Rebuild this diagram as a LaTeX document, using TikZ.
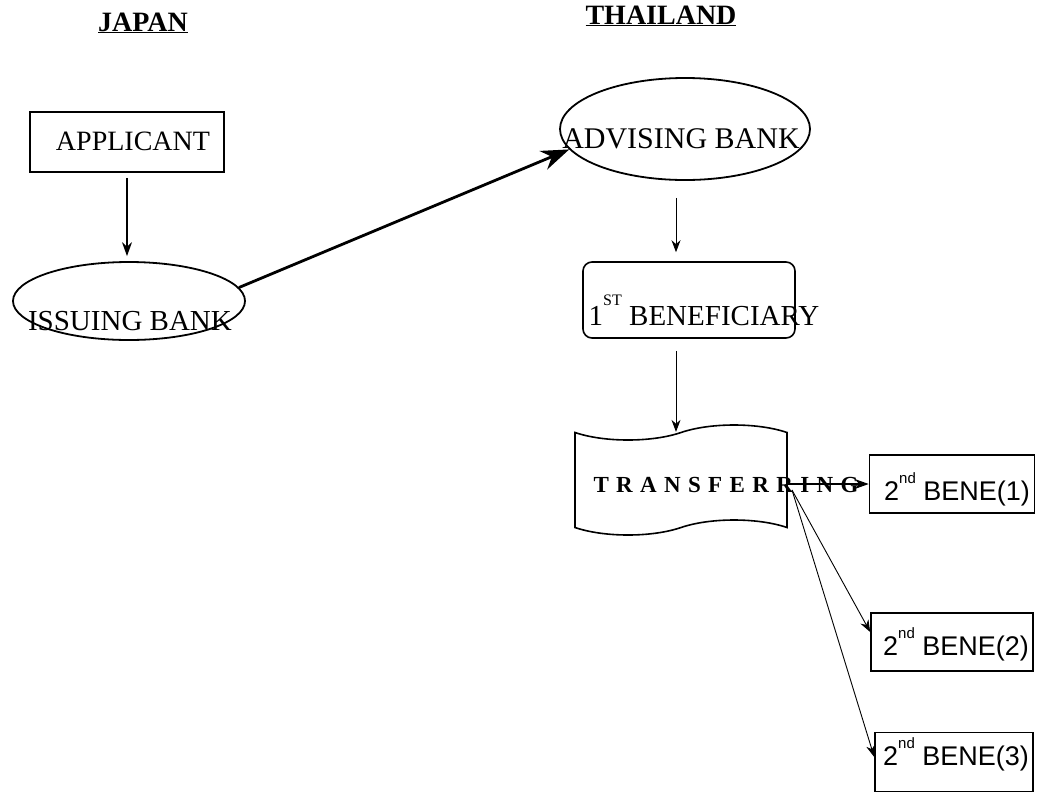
\documentclass[tikz,border=0pt]{standalone}
\usepackage{fontspec}
\setmainfont{Liberation Serif}
\setsansfont{Liberation Sans}
\newfontfamily\spacedfont[LetterSpace=32]{Liberation Serif}
\usetikzlibrary{arrows.meta,positioning,shapes.geometric,shapes.symbols}

% text inside a node, moved by (dx,dy) from its centre, taking no room
\newcommand{\placetxt}[3]{\raisebox{#2}[0pt][0pt]{\makebox[0pt]{\hspace*{#1}\hspace*{#1}#3}}}
\newcommand{\ordnd}{\raisebox{17pt}{\fontsize{15}{15}\selectfont nd}}
\newcommand{\ordst}{\raisebox{20pt}{\fontsize{16}{16}\selectfont ST}}

\begin{document}
\begin{tikzpicture}[
  x=1pt, y=-1pt,
  heading/.style={font=\fontsize{28}{30}\selectfont\bfseries, anchor=base, inner sep=0pt},
  box/.style={rectangle, draw, line width=1.6pt, inner sep=0pt, font=\fontsize{28}{30}\selectfont},
  bank/.style={ellipse, draw, line width=1.8pt, inner sep=0pt, font=\fontsize{29}{30}\selectfont},
  bene/.style={rectangle, draw, line width=1.6pt, inner sep=0pt, minimum width=162, minimum height=58,
    font=\sffamily\fontsize{27}{30}\selectfont},
  flow/.style={-{Stealth[length=14pt,width=10pt]}, line width=1.3pt},
  thinflow/.style={-{Stealth[length=12pt,width=9pt]}, line width=0.9pt},
  bigflow/.style={-{Stealth[length=28pt,width=20pt]}, line width=2.8pt}
]
\useasboundingbox (0,0) rectangle (1040,793);

% countries
\node[heading] (japan) at (143,31) {\underline{JAPAN}};
\node[heading] (thailand) at (661,24) {\underline{THAILAND}};

% japan side
\node[box, minimum width=194, minimum height=60] (applicant) at (127,142) {\placetxt{6pt}{-8pt}{APPLICANT}};
\node[bank, minimum width=232, minimum height=78] (issuing) at (129,301) {\placetxt{1pt}{-29pt}{ISSUING BANK}};

% thailand side
\node[bank, minimum width=250, minimum height=102, font=\fontsize{30}{32}\selectfont] (advising) at (685,129)
  {\placetxt{-4pt}{-19pt}{ADVISING BANK}};
\node[box, rounded corners=9pt, minimum width=212, minimum height=76, font=\fontsize{29}{30}\selectfont] (first) at (689,300)
  {\placetxt{15pt}{-25pt}{1\ordst\ BENEFICIARY}};
\node[tape, draw, line width=1.6pt, inner sep=0pt, minimum width=212, minimum height=110, tape bend height=15,
  font=\spacedfont\bfseries\fontsize{23}{26}\selectfont] (transfer) at (681,480) {\placetxt{45pt}{-12pt}{TRANSFERRING}};

\node[bene, minimum width=165] (bene1) at (952,484) {\placetxt{5pt}{-16pt}{2\ordnd\ BENE(1)}};
\node[bene] (bene2) at (952,642) {\placetxt{4pt}{-13pt}{2\ordnd\ BENE(2)}};
\node[bene, minimum width=158, minimum height=59] (bene3) at (954,762) {\placetxt{2pt}{-3pt}{2\ordnd\ BENE(3)}};

\coordinate (spine) at (676,0);
\coordinate (fork) at (792,490);

% connectors
\draw[flow, shorten <=5pt, shorten >=5pt] (applicant.south) -- (applicant.south |- issuing.north);
\draw[bigflow] (issuing.7) -- (advising.190);
\draw[thinflow, shorten <=17pt, shorten >=9pt] (advising.south -| spine) -- (first.north -| spine);
\draw[thinflow, shorten <=12pt] (first.south -| spine) -- (transfer.north -| spine);
\draw[flow] (transfer.east |- bene1.west) -- (bene1.west);
\draw[thinflow] (fork) -- ([yshift=10pt]bene2.west);
\draw[thinflow] (fork) -- ([yshift=5pt]bene3.west);
\end{tikzpicture}
\end{document}
